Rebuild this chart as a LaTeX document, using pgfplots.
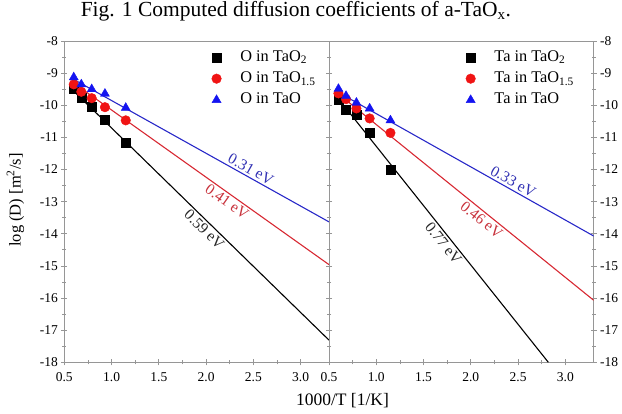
\documentclass[border=0pt]{standalone}
\usepackage{fontspec}
\setmainfont{Liberation Serif}
\usepackage{pgfplots}
\pgfplotsset{compat=1.18}
\definecolor{axgray}{RGB}{150,150,150}
\definecolor{mred}{RGB}{240,20,20}
\definecolor{mblue}{RGB}{20,20,240}
\definecolor{lred}{RGB}{215,40,50}
\definecolor{lblue}{RGB}{40,40,200}
\definecolor{tred}{RGB}{200,50,60}
\definecolor{tblue}{RGB}{50,50,180}
\definecolor{tblack}{RGB}{40,40,40}
\tikzset{lab/.style={font=\fontsize{15.5bp}{17bp}\selectfont, sloped, inner sep=2bp}}
\pgfplotsset{
  panel/.style={
    scale only axis, width=264.7bp, height=321.3bp,
    xmin=0.5, xmax=3.3, ymin=-18, ymax=-8,
    xtick={0.5,1.0,1.5,2.0,2.5,3.0}, minor x tick num=1,
    ytick={-18,-17,...,-8}, minor y tick num=1,
    xtick pos=left, ytick pos=both,
    tick align=center,
    axis line style={axgray, line width=0.8pt},
    tick style={axgray, line width=0.7pt},
    major tick length=6bp, minor tick length=4bp,
    tick label style={font=\fontsize{13.5bp}{15bp}\selectfont},
    /pgf/number format/assume math mode=true,
    xticklabel style={yshift=-3.5bp, /pgf/number format/.cd, fixed, fixed zerofill, precision=1},
    legend cell align=left,
    legend style={draw=none, fill=none, anchor=north west,
      font=\fontsize{16.3bp}{18bp}\selectfont,
      inner xsep=3bp, inner ysep=2bp,
      nodes={inner sep=2bp, text height=12bp, text depth=4bp},
      row sep=1.3bp, column sep=17bp},
  },
  sq/.style={only marks, mark=square*, mark size=4.5bp, black},
  ci/.style={only marks, mark=*, mark size=4.8bp, mred, mark options={draw=mred, fill=mred}},
  tr/.style={only marks, mark=triangle*, mark size=5.2bp, mblue, mark options={draw=mblue, fill=mblue}},
  ln/.style={no marks, line width=1.1pt},
}
\begin{document}
\begin{tikzpicture}
\useasboundingbox (-64.3bp,-51.7bp) rectangle (557.7bp,362.3bp);
\begin{axis}[panel,
  at={(0bp,0bp)}, anchor=south west,
  yticklabel pos=left,
  legend style={at={(rel axis cs:0.545,0.987)}},
  ylabel={log (D) [m\textsuperscript{2}/s]},
  ylabel style={at={(axis description cs:-0.1647,0.505)}, anchor=base, font=\fontsize{16.5bp}{18bp}\selectfont},
  xlabel={1000/T [1/K]},
  xlabel style={at={(axis description cs:1.051,-0.136)}, anchor=base, font=\fontsize{17.5bp}{19bp}\selectfont},
  title={Fig. 1 Computed diffusion coefficients of a-TaO\textsubscript{x}.},
  title style={at={(axis description cs:0.875,1.0576)}, anchor=base, font=\fontsize{21.5bp}{25bp}\selectfont},
]
\addplot[sq] coordinates {(0.6,-9.50) (0.68,-9.77) (0.79,-10.03) (0.93,-10.44) (1.15,-11.15)};
\addlegendentry{O in TaO\textsubscript{2}}
\addplot[ci] coordinates {(0.6,-9.35) (0.68,-9.58) (0.79,-9.78) (0.93,-10.06) (1.15,-10.47)};
\addlegendentry{O in TaO\textsubscript{1.5}}
\addplot[tr] coordinates {(0.6,-9.13) (0.68,-9.35) (0.79,-9.50) (0.93,-9.64) (1.15,-10.08)};
\addlegendentry{O in TaO}
\addplot[ln, black, forget plot] coordinates {(0.59,-9.53) (3.3,-17.31)}
  node[lab, pos=0.535, below, text=tblack] {0.59 eV};
\addplot[ln, lred, forget plot] coordinates {(0.59,-9.29) (3.3,-14.96)}
  node[lab, pos=0.62, below, text=tred] {0.41 eV};
\addplot[ln, lblue, forget plot] coordinates {(0.59,-9.18) (3.3,-13.63)}
  node[lab, pos=0.68, above, text=tblue] {0.31 eV};
\end{axis}
\begin{axis}[panel,
  at={(264.7bp,0bp)}, anchor=south west,
  yticklabel pos=right,
  legend style={at={(rel axis cs:0.505,0.987)}},
]
\addplot[sq] coordinates {(0.6,-9.82) (0.68,-10.15) (0.79,-10.30) (0.93,-10.84) (1.15,-12.02)};
\addlegendentry{Ta in TaO\textsubscript{2}}
\addplot[ci] coordinates {(0.6,-9.63) (0.68,-9.81) (0.79,-10.10) (0.93,-10.41) (1.15,-10.86)};
\addlegendentry{Ta in TaO\textsubscript{1.5}}
\addplot[tr] coordinates {(0.6,-9.49) (0.68,-9.71) (0.79,-9.92) (0.93,-10.10) (1.15,-10.47)};
\addlegendentry{Ta in TaO}
\addplot[ln, black, forget plot] coordinates {(0.6,-9.80) (2.82,-18.0)}
  node[lab, pos=0.53, below, text=tblack] {0.77 eV};
\addplot[ln, lred, forget plot] coordinates {(0.6,-9.65) (3.3,-16.07)}
  node[lab, pos=0.58, below, text=tred] {0.46 eV};
\addplot[ln, lblue, forget plot] coordinates {(0.6,-9.60) (3.3,-14.07)}
  node[lab, pos=0.67, above, text=tblue] {0.33 eV};
\end{axis}
\end{tikzpicture}
\end{document}
